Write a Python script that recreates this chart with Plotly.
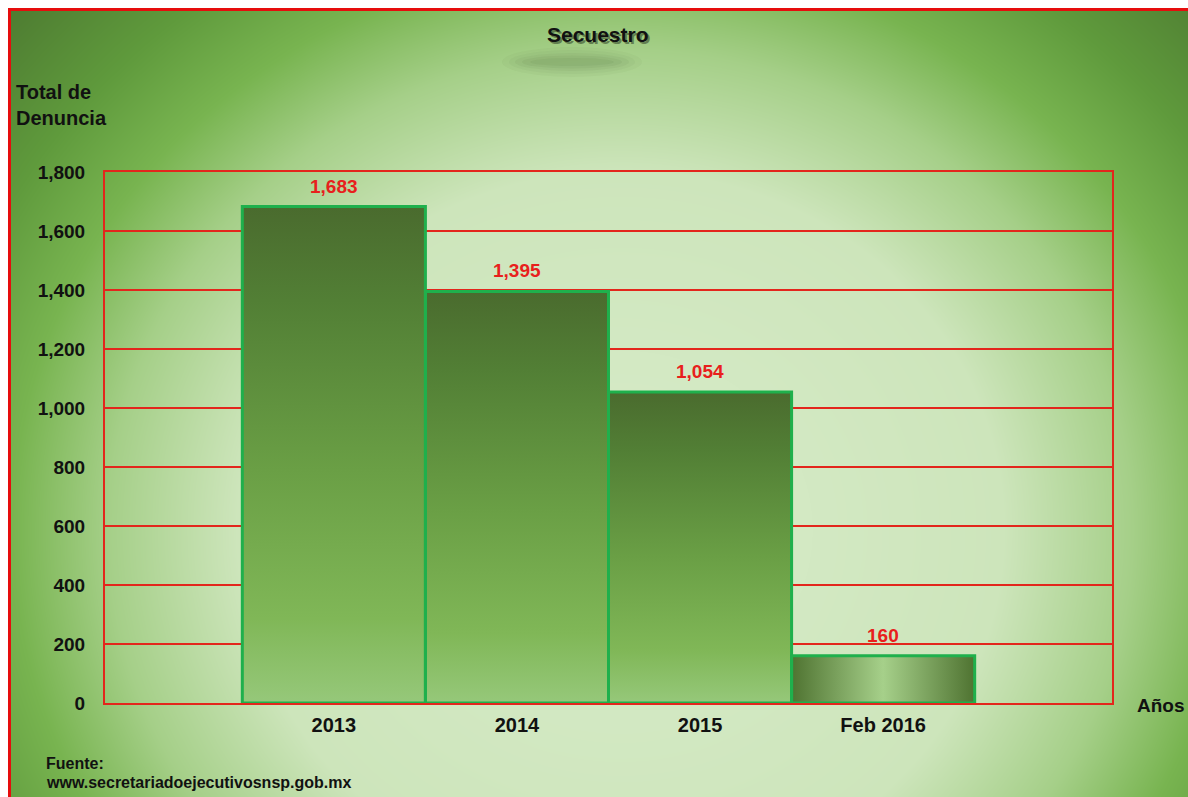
import numpy as np
import plotly.graph_objects as go

# ---- data ----
categories = ["2013", "2014", "2015", "Feb 2016"]
values = [1683, 1395, 1054, 160]
y_ticks = [0, 200, 400, 600, 800, 1000, 1200, 1400, 1600, 1800]

W, H = 1188, 797
RED = "#e3261c"
GREEN_EDGE = "#1fb04c"
FONT = "Liberation Sans, Arial, sans-serif"


def px(x):
    return x / W


def py(y):
    return 1 - y / H


# plot-area placement in page pixels
PL, PR, PT, PB = 105, 1112, 172, 703

# ---- page background: soft elliptical light centre fading to dark green ----
gx = np.linspace(0, W, 120)
gy = np.linspace(0, H, 80)
GX, GY = np.meshgrid(gx, gy)
dist = np.sqrt(((GX - 620) / 640) ** 2 + ((GY - 530) / 600) ** 2)
dist = np.clip(dist, 0, 1.35) / 1.35
bg_scale = [
    [0.0, "#d8ecca"],
    [0.444, "#cde5bb"],
    [0.593, "#a5cf88"],
    [0.704, "#78b450"],
    [0.815, "#5f9a3c"],
    [1.0, "#48722e"],
]

fig = go.Figure()
fig.add_trace(go.Heatmap(
    x=gx, y=gy, z=dist, zmin=0, zmax=1, colorscale=bg_scale,
    showscale=False, zsmooth="best", hoverinfo="skip",
    xaxis="x", yaxis="y",
))

# ---- gradient fills for the bars ----
vertical_scale = [
    [0.0, "#96c87a"], [0.17, "#80b757"], [0.47, "#6a9f45"],
    [0.81, "#527f35"], [1.0, "#4a6b2e"],
]
horizontal_scale = [[0.0, "#4f7331"], [0.5, "#a6d08a"], [1.0, "#4f7331"]]
for i, v in enumerate(values):
    grad = (dict(type="horizontal", colorscale=horizontal_scale) if v < 400
            else dict(type="vertical", colorscale=vertical_scale))
    fig.add_trace(go.Scatter(
        x=[i - 0.5, i - 0.5, i + 0.5, i + 0.5],
        y=[0, v, v, 0],
        fill="toself", fillgradient=grad,
        mode="lines", line=dict(width=0),
        hoverinfo="skip", showlegend=False,
        xaxis="x2", yaxis="y2",
    ))

# ---- bar outlines ----
fig.add_trace(go.Bar(
    x=list(range(len(categories))), y=values, width=1,
    marker=dict(color="rgba(0,0,0,0)", line=dict(color=GREEN_EDGE, width=3)),
    hovertext=categories, showlegend=False,
    xaxis="x3", yaxis="y3",
))

# ---- value labels ----
annotations = []
for i, v in enumerate(values):
    annotations.append(dict(
        x=i, y=v, xref="x3", yref="y3", text=f"<b>{v:,}</b>",
        showarrow=False, yanchor="bottom", yshift=8,
        font=dict(family=FONT, size=19, color="#e8201c"),
    ))

# title with drop shadow
annotations.append(dict(
    x=px(598), y=py(35), xref="paper", yref="paper", text="<b>Secuestro</b>",
    showarrow=False, xanchor="center", yanchor="middle", xshift=2, yshift=-2,
    font=dict(family=FONT, size=21, color="rgba(20,30,15,0.45)"),
))
annotations.append(dict(
    x=px(598), y=py(35), xref="paper", yref="paper", text="<b>Secuestro</b>",
    showarrow=False, xanchor="center", yanchor="middle",
    font=dict(family=FONT, size=21, color="#111111"),
))
# axis titles and source note
annotations.append(dict(
    x=px(14), y=py(105), xref="paper", yref="paper",
    text="<b>Total de<br>Denuncia</b>", align="left",
    showarrow=False, xanchor="left", yanchor="middle",
    font=dict(family=FONT, size=20, color="#111111"),
))
annotations.append(dict(
    x=px(1161), y=py(705), xref="paper", yref="paper", text="<b>Años</b>",
    showarrow=False, xanchor="center", yanchor="middle",
    font=dict(family=FONT, size=19, color="#111111"),
))
annotations.append(dict(
    x=px(44), y=py(763), xref="paper", yref="paper", text="<b>Fuente:</b>",
    showarrow=False, xanchor="left", yanchor="middle",
    font=dict(family=FONT, size=16, color="#111111"),
))
annotations.append(dict(
    x=px(44), y=py(782), xref="paper", yref="paper",
    text="<b>www.secretariadoejecutivosnsp.gob.mx</b>",
    showarrow=False, xanchor="left", yanchor="middle",
    font=dict(family=FONT, size=16, color="#111111"),
))

# ---- page frame and faded subtitle smear ----
shapes = [
    dict(type="rect", xref="paper", yref="paper", x0=0, x1=1, y0=py(8), y1=1,
         fillcolor="white", line=dict(width=0)),
    dict(type="rect", xref="paper", yref="paper", x0=0, x1=px(8), y0=0, y1=1,
         fillcolor="white", line=dict(width=0)),
    dict(type="line", xref="paper", yref="paper", x0=px(8), x1=1, y0=py(9.5), y1=py(9.5),
         line=dict(color="#e60d0d", width=3)),
    dict(type="line", xref="paper", yref="paper", x0=px(9.5), x1=px(9.5), y0=0, y1=py(8),
         line=dict(color="#e60d0d", width=3)),
]
for w, h, a in [(140, 30, 0.035), (126, 24, 0.04), (114, 18, 0.05),
                (100, 13, 0.06), (84, 8, 0.06)]:
    shapes.append(dict(
        type="circle", xref="paper", yref="paper",
        x0=px(572 - w / 2), x1=px(572 + w / 2), y0=py(62 + h / 2), y1=py(62 - h / 2),
        fillcolor=f"rgba(50,80,40,{a})", line=dict(width=0),
    ))

x_range = [-1.25, len(categories) + 0.25]
fig.update_layout(
    width=W, height=H,
    margin=dict(l=0, r=0, t=0, b=0, autoexpand=False),
    paper_bgcolor="white", plot_bgcolor="rgba(0,0,0,0)",
    showlegend=False,
    font=dict(family=FONT),
    xaxis=dict(domain=[0, 1], range=[0, W], visible=False, fixedrange=True,
               automargin=False),
    yaxis=dict(domain=[0, 1], range=[H, 0], visible=False, fixedrange=True,
               automargin=False),
    xaxis2=dict(
        domain=[px(PL), px(PR)], range=x_range, anchor="y2", automargin=False,
        tickvals=list(range(len(categories))), ticktext=categories,
        showgrid=False, zeroline=False, ticks="",
        showline=True, mirror=True, linecolor=RED, linewidth=2,
        tickfont=dict(family=FONT, size=20, color="#111111", weight="bold"),
        ticklabelstandoff=3,
    ),
    yaxis2=dict(
        domain=[py(PB), py(PT)], range=[0, 1800], anchor="x2", automargin=False,
        tickvals=y_ticks, tickformat=",",
        showgrid=True, gridcolor=RED, gridwidth=2, zeroline=False, ticks="",
        showline=True, mirror=True, linecolor=RED, linewidth=2,
        tickfont=dict(family=FONT, size=19, color="#111111", weight="bold"),
        ticklabelstandoff=14,
    ),
    xaxis3=dict(overlaying="x2", range=x_range, anchor="y3", visible=False,
                automargin=False),
    yaxis3=dict(overlaying="y2", range=[0, 1800], anchor="x3", visible=False,
                automargin=False),
    annotations=annotations,
    shapes=shapes,
)

fig.write_html("out.html")
